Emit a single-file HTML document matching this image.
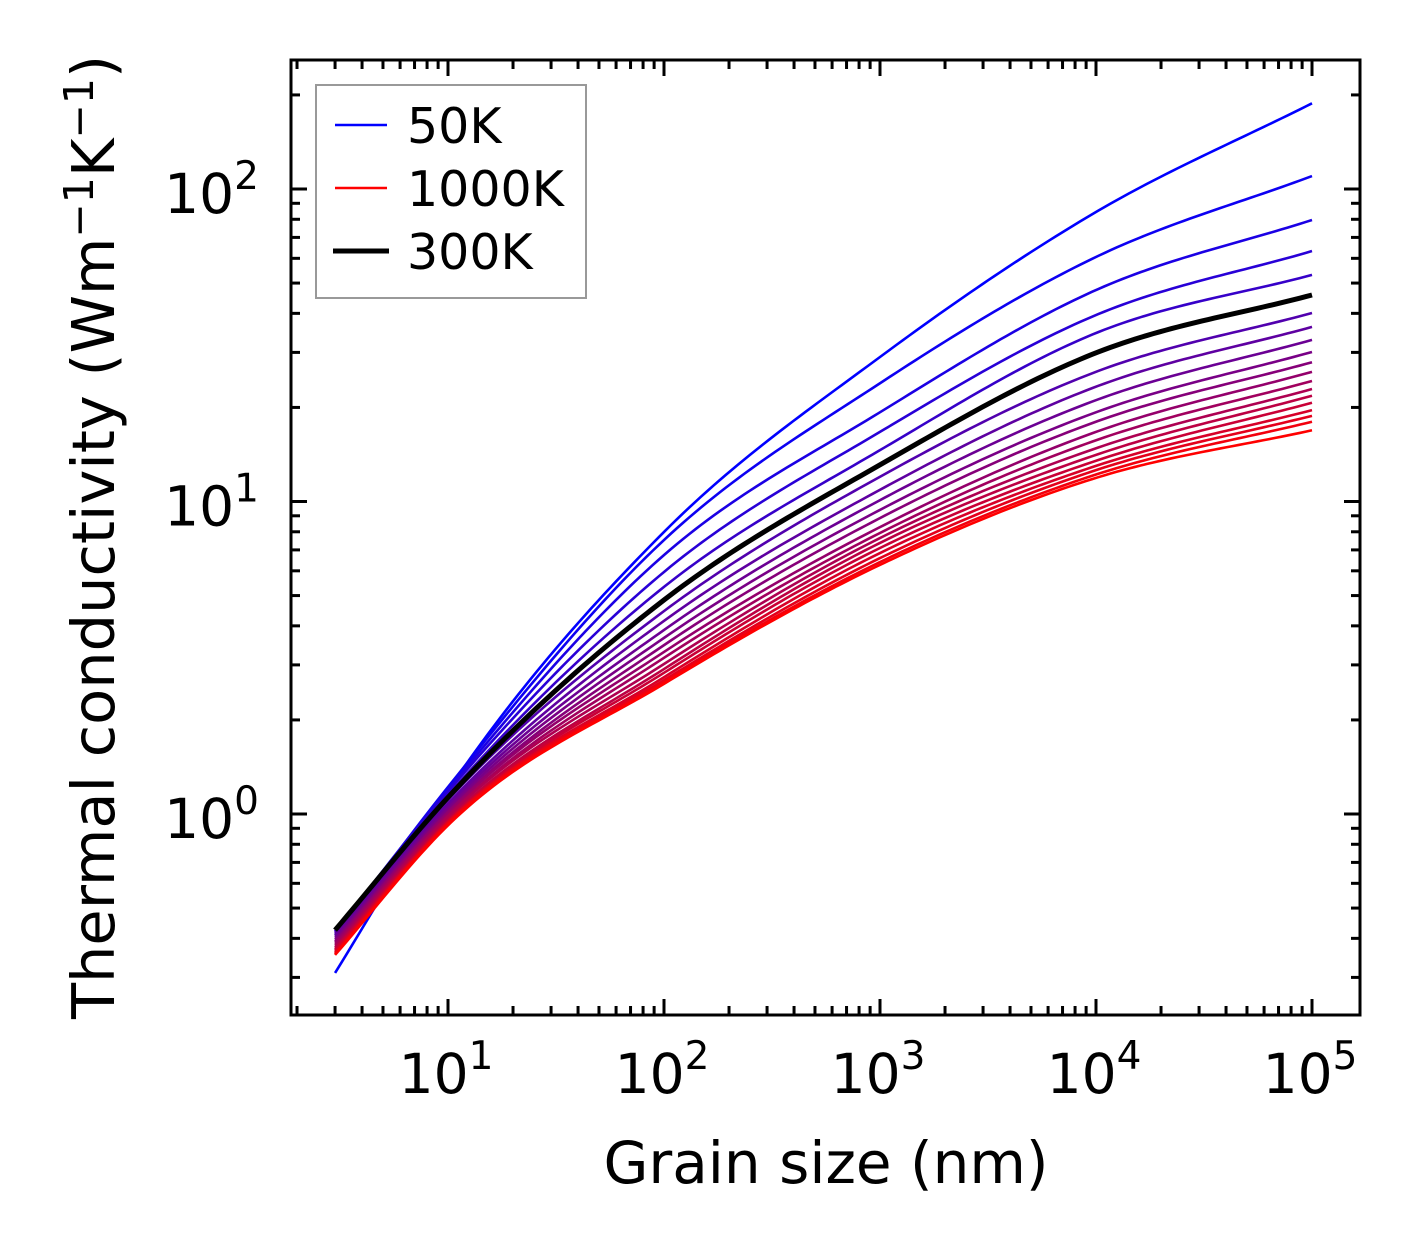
<!DOCTYPE html>
<html><head><meta charset="utf-8"><style>
html,body{margin:0;padding:0;background:#fff;}
svg{display:block;font-family:"DejaVu Sans","Liberation Sans",sans-serif;}
</style></head><body>
<svg id="chart" width="1421" height="1254" viewBox="0 0 1421 1254" xmlns="http://www.w3.org/2000/svg">
<g id="curves"></g>
<g id="ticks"></g>
<rect x="291" y="60" width="1069" height="955" fill="none" stroke="#000" stroke-width="3"/>
<g>
<rect x="316" y="85" width="270" height="213" fill="#fff" stroke="#999" stroke-width="2"/>
<line x1="335" y1="125" x2="387" y2="125" stroke="#0000ff" stroke-width="2.5"/>
<text x="407" y="143" font-size="49">50K</text>
<line x1="335" y1="188" x2="387" y2="188" stroke="#ff0000" stroke-width="2.5"/>
<text x="407" y="206" font-size="49">1000K</text>
<line x1="333" y1="251" x2="389" y2="251" stroke="#000" stroke-width="5"/>
<text x="407" y="269" font-size="49">300K</text>
</g>
<text x="826" y="1183" font-size="58" text-anchor="middle">Grain size (nm)</text>
<text transform="translate(114,537) rotate(-90)" font-size="59" text-anchor="middle">Thermal conductivity (Wm<tspan dy="-21" font-size="41">−1</tspan><tspan dy="21">K</tspan><tspan dy="-21" font-size="41">−1</tspan><tspan dy="21">)</tspan></text>
</svg>
<script>
const gridSizes = [3, 10, 100, 1000, 10000, 100000];
const temperatures = [50,100,150,200,250,300,350,400,450,500,550,600,650,700,750,800,850,900,950,1000];
const kAt3 =    [0.31,0.41,0.42,0.42,0.42,0.425,0.416,0.41,0.404,0.398,0.392,0.387,0.381,0.375,0.370,0.367,0.362,0.359,0.356,0.354];
const kAt10 =   [1.19,1.22,1.20,1.18,1.15,1.13,1.11,1.08,1.06,1.04,1.02,1.01,0.99,0.98,0.96,0.95,0.94,0.94,0.93,0.92];
const kAt100 =  [7.99,7.53,6.74,5.95,5.33,4.84,4.46,4.15,3.88,3.66,3.47,3.30,3.16,3.02,2.91,2.83,2.74,2.68,2.64,2.61];
const kAt1e3 =  [29.0,23.9,19.3,16.7,14.6,13.1,12.0,10.9,10.1,9.40,8.85,8.28,7.93,7.64,7.37,7.10,6.84,6.59,6.40,6.27];
const kAt1e4 =  [84.4,60.6,47.5,39.5,34.6,29.9,26.0,23.3,21.1,19.3,18.0,16.7,15.7,14.8,14.1,13.5,13.0,12.6,12.2,11.9];
const kAt1e5 =  [188,110,79.6,63.3,53.1,45.8,40.1,36.2,32.9,30.1,27.9,26.0,24.3,22.9,21.8,20.7,19.6,18.8,18.0,16.9];
const xTickLabels = ["1","2","3","4","5"];
const yTickLabels = ["0","1","2"];

const NS = "http://www.w3.org/2000/svg";
const X0 = 448, XD = 216, Y0 = 814, YD = 312.5;
function xs(v){ return X0 + (Math.log10(v) - 1) * XD; }
function ys(v){ return Y0 - Math.log10(v) * YD; }

function monotone(xsArr, ysArr){
  const n = xsArr.length, d = [], m = new Array(n);
  for (let i=0;i<n-1;i++) d.push((ysArr[i+1]-ysArr[i])/(xsArr[i+1]-xsArr[i]));
  m[0]=d[0]; m[n-1]=d[n-2];
  for (let i=1;i<n-1;i++){
    const h0=xsArr[i]-xsArr[i-1], h1=xsArr[i+1]-xsArr[i];
    m[i] = d[i-1]*d[i] <= 0 ? 0 : (d[i-1]*h1+d[i]*h0)/(h0+h1);
  }
  for (let i=0;i<n-1;i++){
    if (d[i]===0){ m[i]=0; m[i+1]=0; continue; }
    const a=m[i]/d[i], b=m[i+1]/d[i], s=a*a+b*b;
    if (s>9){ const t=3/Math.sqrt(s); m[i]=t*a*d[i]; m[i+1]=t*b*d[i]; }
  }
  return function(x){
    let i=0; while(i<n-2 && x>xsArr[i+1]) i++;
    const h=xsArr[i+1]-xsArr[i], t=(x-xsArr[i])/h;
    const h00=2*t*t*t-3*t*t+1, h10=t*t*t-2*t*t+t, h01=-2*t*t*t+3*t*t, h11=t*t*t-t*t;
    return h00*ysArr[i]+h10*h*m[i]+h01*ysArr[i+1]+h11*h*m[i+1];
  };
}

const curves = document.getElementById('curves');
const series = [kAt3,kAt10,kAt100,kAt1e3,kAt1e4,kAt1e5];
const lx = gridSizes.map(v=>Math.log10(v));
let blackPath = null;
temperatures.forEach((T, i) => {
  const ly = series.map(arr => Math.log10(arr[i]));
  const f = monotone(lx, ly);
  let d = "";
  const N = 160;
  for (let k=0;k<=N;k++){
    const L = lx[0] + (lx[lx.length-1]-lx[0])*k/N;
    const v = Math.pow(10, f(L));
    d += (k?"L":"M") + xs(Math.pow(10,L)).toFixed(2) + "," + ys(v).toFixed(2);
  }
  const p = document.createElementNS(NS, 'path');
  p.setAttribute('d', d);
  p.setAttribute('fill', 'none');
  const frac = i/(temperatures.length-1);
  const col = 'rgb(' + Math.round(255*frac) + ',0,' + Math.round(255*(1-frac)) + ')';
  if (T === 300){ p.setAttribute('stroke', '#000'); p.setAttribute('stroke-width', '5'); blackPath = p; }
  else { p.setAttribute('stroke', col); p.setAttribute('stroke-width', '2.6'); }
  
  
  curves.appendChild(p);
});
if (blackPath) curves.appendChild(blackPath);

const ticks = document.getElementById('ticks');
function line(x1,y1,x2,y2,name){
  const l = document.createElementNS(NS,'line');
  l.setAttribute('x1',x1); l.setAttribute('y1',y1); l.setAttribute('x2',x2); l.setAttribute('y2',y2);
  l.setAttribute('stroke','#000'); l.setAttribute('stroke-width','3');
  
  
  ticks.appendChild(l);
}
const L=291,R=1360,T0=60,B=1015, MJ=16, MN=9;
for (let e=0;e<=5;e++){
  for (let m=1;m<10;m++){
    const x = xs(m*Math.pow(10,e));
    if (x<L+1||x>R-1) continue;
    const len = m===1?MJ:MN;
    line(x,B,x,B-len,'x-tick'); line(x,T0,x,T0+len,'x-tick-top');
  }
}
for (let e=-1;e<=2;e++){
  for (let m=1;m<10;m++){
    const y = ys(m*Math.pow(10,e));
    if (y<T0+1||y>B-1) continue;
    const len = m===1?MJ:MN;
    line(L,y,L+len,y,'y-tick'); line(R,y,R-len,y,'y-tick-right');
  }
}
xTickLabels.forEach(lbl => {
  const t = document.createElementNS(NS,'text');
  t.setAttribute('x', xs(Math.pow(10, +lbl)) - 2);
  t.setAttribute('y', 1093);
  t.setAttribute('font-size','55');
  t.setAttribute('text-anchor','middle');
  t.innerHTML = '10<tspan dy="-24" font-size="39">' + lbl + '</tspan>';
  
  
  ticks.appendChild(t);
});
yTickLabels.forEach(lbl => {
  const t = document.createElementNS(NS,'text');
  t.setAttribute('x', 259);
  t.setAttribute('y', ys(Math.pow(10, +lbl)) + 24);
  t.setAttribute('font-size','55');
  t.setAttribute('text-anchor','end');
  t.innerHTML = '10<tspan dy="-24" font-size="39">' + lbl + '</tspan>';
  
  
  ticks.appendChild(t);
});
</script>
</body></html>
